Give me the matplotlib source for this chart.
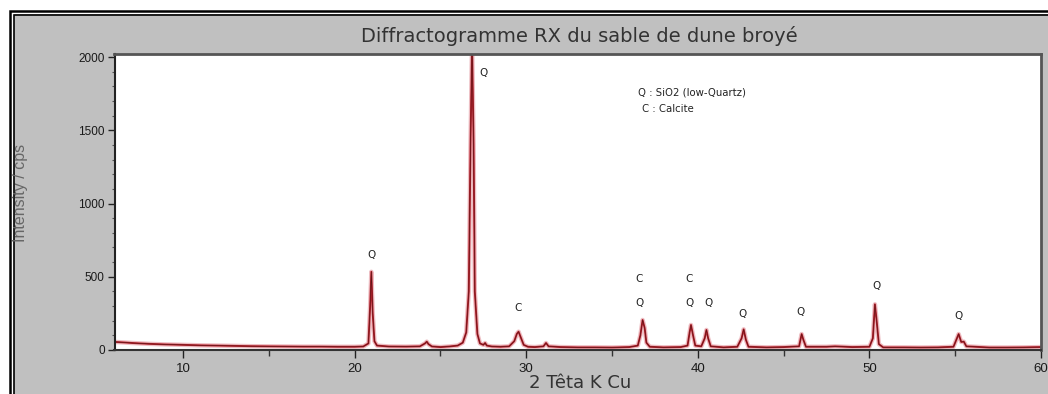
import matplotlib
matplotlib.use("Agg")
import matplotlib.pyplot as plt
from matplotlib.patches import Rectangle
from matplotlib.ticker import MultipleLocator

# 2-theta (deg) and intensity (cps)
two_theta = [
    6.0, 6.5, 7.0, 8.0, 9.0, 10.0, 11.0, 12.0, 13.0, 14.0, 15.0, 16.0, 17.0,
    18.0, 19.0, 20.0, 20.5, 20.8, 20.9, 20.97, 21.05, 21.15, 21.3, 22.0, 23.0,
    23.8, 24.1, 24.2, 24.3, 24.5, 25.0, 25.5, 26.0, 26.3, 26.5, 26.65, 26.75,
    26.84, 26.93, 27.0, 27.15, 27.3, 27.5, 27.6, 27.7, 28.0, 28.5, 29.0, 29.3,
    29.45, 29.55, 29.7, 29.85, 30.1, 30.5, 31.0, 31.15, 31.3, 32.0, 33.0, 34.0,
    35.0, 36.0, 36.5, 36.65, 36.78, 36.9, 37.0, 37.2, 38.0, 39.0, 39.4, 39.52,
    39.6, 39.72, 39.85, 40.2, 40.4, 40.5, 40.6, 40.75, 41.5, 42.3, 42.55, 42.67,
    42.8, 42.95, 44.0, 45.0, 45.9, 46.05, 46.15, 46.3, 47.5, 48.0, 49.0, 50.0,
    50.2, 50.32, 50.42, 50.55, 50.8, 52.0, 53.0, 54.0, 54.9, 55.1, 55.2, 55.35,
    55.5, 55.65, 57.0, 58.0, 59.0, 60.0,
]
intensity = [
    55, 52, 48, 42, 38, 35, 32, 30, 28, 26, 25, 24, 23,
    23, 22, 22, 24, 45, 300, 534, 250, 60, 30, 24, 23,
    25, 45, 57, 40, 24, 20, 24, 30, 50, 120, 400, 1400,
    2100, 1400, 400, 110, 45, 35, 48, 30, 24, 22, 25, 60,
    110, 125, 80, 35, 22, 20, 25, 48, 25, 20, 18, 18,
    17, 20, 30, 100, 205, 150, 50, 22, 18, 20, 30, 120,
    171, 100, 30, 25, 80, 137, 80, 25, 18, 22, 80, 141,
    70, 22, 18, 20, 25, 109, 70, 22, 22, 25, 20, 22,
    80, 312, 200, 40, 18, 18, 17, 18, 22, 80, 109, 55,
    57, 25, 17, 17, 18, 20,
]

# Phase markers: letter, 2-theta, height (cps)
marker_text = ["Q", "Q", "C", "C", "Q", "C", "Q", "Q", "Q", "Q", "Q", "Q"]
marker_x = [21.0, 27.5, 29.5, 36.6, 36.6, 39.5, 39.5, 40.6, 42.6, 46.0, 50.4, 55.2]
marker_y = [648, 1893, 285, 483, 319, 483, 319, 319, 244, 257, 437, 232]

legend_lines = ["Q : SiO2 (low-Quartz)", "C : Calcite"]

x_ticks = [10, 20, 30, 40, 50, 60]
y_ticks = [0, 500, 1000, 1500, 2000]

W, H = 1048, 394
fig = plt.figure(figsize=(W / 100, H / 100), dpi=100, facecolor="white")


def fx(px):
    return px / W


def fy(py):
    return 1 - py / H


# grey panel with double black frame, kept behind the axes
fig.patches.append(Rectangle((fx(14), fy(400)), fx(1040), fy(14) - fy(400),
                             transform=fig.transFigure, facecolor="#c0c0c0",
                             edgecolor="none", zorder=-10))
fig.patches.append(Rectangle((fx(10), fy(400)), fx(1045), fy(10.5) - fy(400),
                             transform=fig.transFigure, facecolor="none",
                             edgecolor="black", lw=1.8, zorder=-9))
fig.patches.append(Rectangle((fx(14), fy(398)), fx(1040), fy(15) - fy(398),
                             transform=fig.transFigure, facecolor="none",
                             edgecolor="black", lw=1.2, zorder=-9))

ax = fig.add_axes([fx(114.5), fy(350), fx(1041) - fx(114.5), fy(54) - fy(350)])
ax.set_zorder(5)
ax.set_facecolor("white")
ax.set_xlim(6, 60)
ax.set_ylim(0, (350 - 54) / 0.1465)

ax.plot(two_theta, intensity, color="#e6a3aa", lw=3.2, alpha=0.7,
        solid_joinstyle="round")
ax.plot(two_theta, intensity, color="#b8232e", lw=1.4, solid_joinstyle="round")
ax.plot(two_theta, intensity, color="#4a1010", lw=0.5, alpha=0.8)

for t, xv, yv in zip(marker_text, marker_x, marker_y):
    ax.text(xv, yv, t, fontsize=7.5, ha="center", va="center",
            color="#222222", family="DejaVu Sans")

ax.text(0.565, 0.87, legend_lines[0], transform=ax.transAxes, fontsize=7.3,
        ha="left", va="center", color="#222222")
ax.text(0.569, 0.815, legend_lines[1], transform=ax.transAxes, fontsize=7.3,
        ha="left", va="center", color="#222222")

ax.set_xticks(x_ticks)
ax.set_yticks(y_ticks)
ax.xaxis.set_minor_locator(MultipleLocator(5))
ax.yaxis.set_minor_locator(MultipleLocator(100))
ax.tick_params(axis="both", which="major", direction="out", color="#222222",
               width=1.0)
ax.tick_params(axis="x", which="major", length=6, labelsize=9.5, pad=3,
               labelcolor="#1a1a1a")
ax.tick_params(axis="y", which="major", length=5, labelsize=8.5, pad=2,
               labelcolor="#1a1a1a")
ax.tick_params(axis="x", which="minor", direction="out", length=4, width=1.0,
               color="#333333")
ax.tick_params(axis="y", which="minor", direction="out", length=2.5, width=0.8,
               color="#555555")
for lab in ax.get_xticklabels() + ax.get_yticklabels():
    lab.set_family("Liberation Sans")

ax.spines["left"].set_color("#222222")
ax.spines["left"].set_linewidth(1.5)
ax.spines["bottom"].set_color("#333333")
ax.spines["bottom"].set_linewidth(1.5)
ax.spines["top"].set_color("#555555")
ax.spines["top"].set_linewidth(2.0)
ax.spines["right"].set_color("#555555")
ax.spines["right"].set_linewidth(2.0)

fig.text(fx(579), fy(36), "Diffractogramme RX du sable de dune broyé",
         ha="center", va="center", fontsize=14, color="#333333",
         family="DejaVu Sans")
fig.text(fx(580), fy(383), "2 Têta K Cu", ha="center", va="center",
         fontsize=13, color="#333333", family="DejaVu Sans")
fig.text(fx(21), fy(193), "Intensity / cps", ha="center", va="center",
         rotation=90, fontsize=11.5, color="#666666", family="Liberation Sans")

fig.savefig("out.png", dpi=100, facecolor="white")
